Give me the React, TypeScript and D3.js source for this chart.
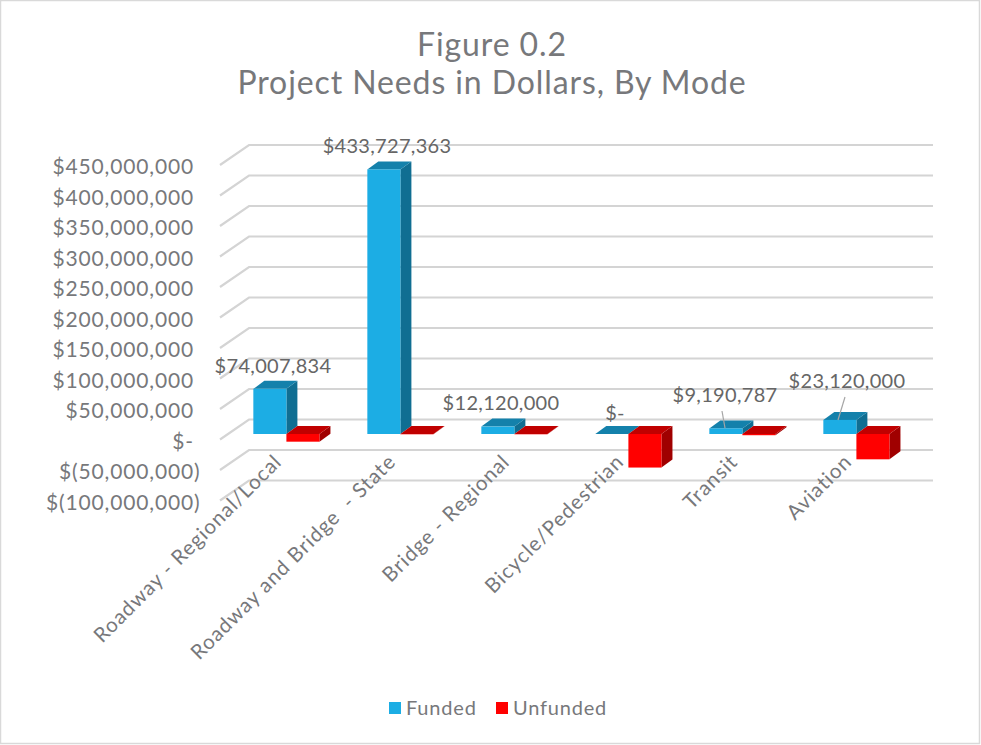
import React from "react";
import * as d3 from "d3";

const categories = ["Roadway - Regional/Local", "Roadway and Bridge  - State", "Bridge - Regional", "Bicycle/Pedestrian", "Transit", "Aviation"];
const funded = [74007834, 433727363, 12120000, 0, 9190787, 23120000];
const unfunded = [-12600000, -500000, -500000, -55000000, -2000000, -41500000];
const fundedLabels = ["$74,007,834", "$433,727,363", "$12,120,000", "$-", "$9,190,787", "$23,120,000"];
const tickValues = [450, 400, 350, 300, 250, 200, 150, 100, 50, 0, -50, -100].map((d) => d * 1e6);
const tickLabels = ["$450,000,000", "$400,000,000", "$350,000,000", "$300,000,000", "$250,000,000", "$200,000,000", "$150,000,000", "$100,000,000", "$50,000,000", "$-", "$(50,000,000)", "$(100,000,000)"];
const title = ["Figure 0.2", "Project Needs in Dollars, By Mode"];

const FONT = "Lato, 'Open Sans', sans-serif";
const TEXT = "#77787b";
const LABEL = "#666666";

// back-wall scale; bars stand 14.5px in front of the wall
const yBack = d3.scaleLinear().domain([-100e6, 450e6]).range([480.5, 145]);
const barFront = (v: number) => yBack(v) + 14.5;
const x0 = d3.scaleBand<string>().domain(categories).range([229.4, 913.4]).paddingInner(0.42).paddingOuter(0.21);
const x1 = d3.scaleBand<string>().domain(["f", "u"]).range([0, x0.bandwidth()]);

const BAR_DX = 11;
const BAR_DY = 8;
const WALL_DX = 29;
const WALL_DY = 20;
const WALL_X0 = 249;
const WALL_X1 = 933;

function Bar({ x, w, v, colors }: { x: number; w: number; v: number; colors: string[] }) {
  const y0 = barFront(0);
  const yv = barFront(v);
  const top = Math.min(y0, yv);
  const bottom = Math.max(y0, yv);
  const quad = (pts: number[][]) => {
    const p = d3.path();
    p.moveTo(pts[0][0], pts[0][1]);
    pts.slice(1).forEach((q) => p.lineTo(q[0], q[1]));
    p.closePath();
    return p.toString();
  };
  return (
    <g>
      <path d={quad([[x + w, top], [x + w + BAR_DX, top - BAR_DY], [x + w + BAR_DX, bottom - BAR_DY], [x + w, bottom]])} fill={colors[2]} />
      <path d={quad([[x, top], [x + BAR_DX, top - BAR_DY], [x + w + BAR_DX, top - BAR_DY], [x + w, top]])} fill={colors[1]} />
      {bottom - top > 0.3 && <rect x={x} y={top} width={w} height={bottom - top} fill={colors[0]} />}
    </g>
  );
}

const BLUE = ["#1cade4", "#1481ab", "#106e92"];
const RED = ["#ff0000", "#c00000", "#a00000"];

const labelPos = [
  [273, 373],
  [387, 153],
  [501, 410],
  [615, 420],
  [725, 402],
  [847, 388],
];
const leaders: (number[] | null)[] = [null, null, null, null, [722, 411, 725, 428], [845, 397, 838, 420]];
const catAnchor = [
  [283, 463],
  [397, 463],
  [511, 463],
  [625, 463],
  [739, 463],
  [853, 463],
];

export default function App() {
  return (
    <svg width={981} height={745} style={{ position: "absolute", left: 0, top: 0, background: "#fff" }} fontFamily={FONT}>
      <rect x={0.5} y={0.5} width={979} height={743} fill="#fff" stroke="#d9d9d9" strokeWidth={1.5} />
      {title.map((t, i) => (
        <text key={t} x={492} y={55.5 + i * 38.5} textAnchor="middle" fontSize={32} letterSpacing={0.9} fill={TEXT}>{t}</text>
      ))}
      {tickValues.map((v) => {
        const y = yBack(v);
        const d = d3.path();
        d.moveTo(WALL_X0 - WALL_DX, y + WALL_DY);
        d.lineTo(WALL_X0, y);
        d.lineTo(WALL_X1, y);
        return <path key={v} d={d.toString()} fill="none" stroke="#d4d4d4" strokeWidth={2.2} />;
      })}
      {tickValues.map((v, i) => (
        <text key={v} x={tickLabels[i].endsWith(")") ? 200.5 : 194} y={yBack(v) + 29} textAnchor="end" fontSize={21} letterSpacing={0.85} fill={TEXT}>{tickLabels[i]}</text>
      ))}
      {categories.map((c, i) => {
        const x = x0(c)!;
        return (
          <g key={c}>
            <Bar x={x + x1("f")!} w={x1.bandwidth()} v={funded[i]} colors={BLUE} />
            <Bar x={x + x1("u")!} w={x1.bandwidth()} v={unfunded[i]} colors={RED} />
          </g>
        );
      })}
      {leaders.map((l, i) => l && <line key={i} x1={l[0]} y1={l[1]} x2={l[2]} y2={l[3]} stroke="#a6a6a6" strokeWidth={1.2} />)}
      {fundedLabels.map((t, i) => (
        <text key={i} x={labelPos[i][0]} y={labelPos[i][1]} textAnchor="middle" fontSize={20} letterSpacing={0.3} fill={LABEL}>{t}</text>
      ))}
      {categories.map((c, i) => (
        <text key={c} transform={`translate(${catAnchor[i][0]},${catAnchor[i][1]}) rotate(-45)`} textAnchor="end" fontSize={20.5} letterSpacing={1} fill={TEXT} style={{ whiteSpace: "pre" }}>{c}</text>
      ))}
      <rect x={389} y={702} width={12} height={12} fill="#1cade4" />
      <text x={406} y={715} fontSize={20} letterSpacing={0.8} fill={TEXT}>Funded</text>
      <rect x={496} y={702} width={12} height={12} fill="#ff0000" />
      <text x={513} y={715} fontSize={20} letterSpacing={0.8} fill={TEXT}>Unfunded</text>
    </svg>
  );
}
